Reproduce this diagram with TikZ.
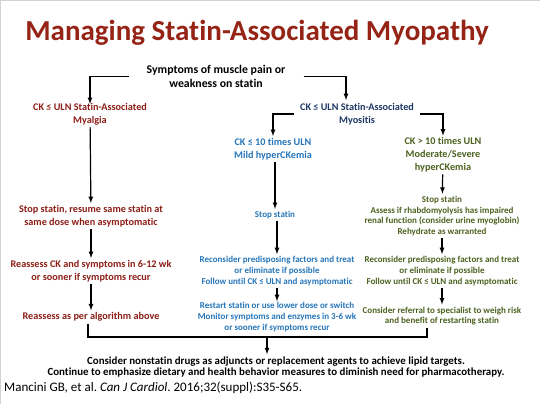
\documentclass[tikz,border=0pt]{standalone}
\usepackage{fontspec}
\setmainfont{Carlito}[Ligatures=NoCommon]
\usetikzlibrary{positioning,calc}
\usepackage{amsmath,amssymb}
\frenchspacing

\definecolor{titlered}{RGB}{150,36,22}
\definecolor{darkred}{RGB}{140,30,22}
\definecolor{navy}{RGB}{31,56,100}
\definecolor{midblue}{RGB}{38,118,186}
\definecolor{olive}{RGB}{78,98,32}

\tikzset{
  step box/.style={align=center,font=\bfseries\fontsize{10.2}{12.8}\selectfont,inner sep=2pt},
  small box/.style={align=center,font=\bfseries\fontsize{9}{10.8}\selectfont,inner sep=2pt},
  flow/.style={->,>=latex,line width=1.2pt}
}

\begin{document}
\begin{tikzpicture}[x=1pt,y=-1pt]
      \useasboundingbox[fill=white] (0,0) rectangle (540,405);
      % slide frame
      \draw[gray!35,line width=1pt] (0.5,404) -- (0.5,0.5) -- (540,0.5);
      % title
      \node[font=\bfseries\fontsize{29}{32}\selectfont,text=titlered] (title) at (257,33) {Managing Statin-Associated Myopathy};
      % start
      \node[step box,font=\bfseries\fontsize{11.8}{13.5}\selectfont,inner xsep=18pt] (symptoms) at (216,76.5) {Symptoms of muscle pain or\\weakness on statin};
      % left branch
      \node[step box,text=darkred] (myalgia) at (90,114) {CK ≤ ULN Statin-Associated\\Myalgia};
      \node[step box,text=darkred] (stopred) at (91,216) {Stop statin, resume same statin at\\same dose when asymptomatic};
      \node[step box,text=darkred] (reassess) at (91,271) {Reassess CK and symptoms in 6-12 wk\\or sooner if symptoms recur};
      \node[step box,text=darkred] (algo) at (91,317) {Reassess as per algorithm above};
      % right branch
      \node[step box,text=navy,inner xsep=6pt] (myositis) at (357,114) {CK ≤ ULN Statin-Associated\\Myositis};
      \node[step box,text=midblue] (mild) at (273,149) {CK ≤ 10 times ULN\\Mild hyperCKemia};
      \node[step box,text=olive] (moderate) at (443,155) {CK > 10 times ULN\\Moderate/Severe\\hyperCKemia};
      % mild column
      \node[small box,text=midblue] (stopblue) at (275,215) {Stop statin};
      \node[small box,text=midblue] (reconsblue) at (277,271) {Reconsider predisposing factors and treat\\or eliminate if possible\\Follow until CK ≤ ULN and asymptomatic};
      \node[small box,text=midblue,inner ysep=1pt] (restart) at (277,317) {Restart statin or use lower dose or switch\\Monitor symptoms and enzymes in 3-6 wk\\or sooner if symptoms recur};
      % severe column
      \node[small box,text=olive] (stopgreen) at (442,216) {Stop statin\\Assess if rhabdomyolysis has impaired\\renal function (consider urine myoglobin)\\Rehydrate as warranted};
      \node[small box,text=olive] (reconsgreen) at (442,271) {Reconsider predisposing factors and treat\\or eliminate if possible\\Follow until CK ≤ ULN and asymptomatic};
      \node[small box,text=olive] (referral) at (442,316) {Consider referral to specialist to weigh risk\\and benefit of restarting statin};
      % end
      \node[step box,font=\bfseries\fontsize{10.9}{11.8}\selectfont] (nonstatin) at (276,367) {Consider nonstatin drugs as adjuncts or replacement agents to achieve lipid targets.\\Continue to emphasize dietary and health behavior measures to diminish need for pharmacotherapy.};
      \node[anchor=west,font=\fontsize{13}{15}\selectfont,inner sep=0pt] (cite) at (4,388) {Mancini GB, et al. \textit{Can J Cardiol}. 2016;32(suppl):S35-S65.};
      % interactions..
      \coordinate (dropR) at (346,100);
      \draw[flow] (symptoms.west) -| ([yshift=-3pt]myalgia.north);
      \draw[flow] (symptoms.east) -| (dropR);
      \draw[flow] (myositis.west) -| (mild.north);
      \draw[flow] (myositis.east) -| (moderate.north);
      \draw[flow] (myalgia) -- (stopred);
      \draw[flow] (stopred) -- (reassess);
      \draw[flow] (reassess) -- (algo);
      \draw[flow] (mild.south -| stopblue) -- (stopblue);
      \draw[flow] (stopblue.south -| reconsblue) -- (reconsblue);
      \draw[flow] (reconsblue) -- (restart);
      \draw[flow] (moderate) -- (stopgreen);
      \draw[flow] (stopgreen) -- (reconsgreen);
      \draw[flow] (reconsgreen) -- (referral);
      % joining bracket
      \coordinate (joinL) at (88,337);
      \coordinate (joinM) at (267,337);
      \coordinate (joinR) at (427,337);
      \draw[line width=1.2pt] (algo.south -| joinL) -- (joinL) -- (joinR) -- (joinR |- referral.south);
      \draw[flow] (joinM) -- (nonstatin.north -| joinM);
    \end{tikzpicture}
\end{document}
